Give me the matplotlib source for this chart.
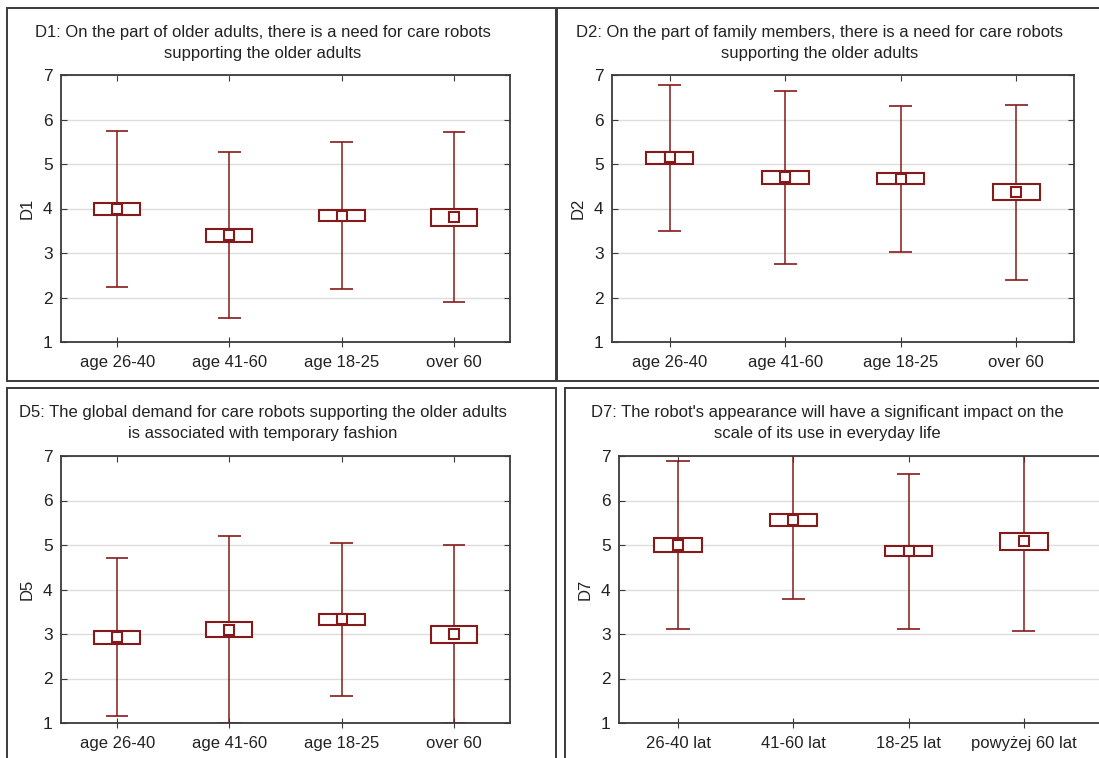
import matplotlib.pyplot as plt
from matplotlib.patches import Rectangle

plt.rcParams['font.family'] = ['Liberation Sans', 'DejaVu Sans']

W, H = 1099, 758
RED = '#861a1a'

# titles and category labels
titles = [
    "D1: On the part of older adults, there is a need for care robots\nsupporting the older adults",
    "D2: On the part of family members, there is a need for care robots\nsupporting the older adults",
    "D5: The global demand for care robots supporting the older adults\nis associated with temporary fashion",
    "D7: The robot's appearance will have a significant impact on the\nscale of its use in everyday life",
]
ylabels = ['D1', 'D2', 'D5', 'D7']
cats_en = ['age 26-40', 'age 41-60', 'age 18-25', 'over 60']
cats_pl = ['26-40 lat', '41-60 lat', '18-25 lat', 'powyżej 60 lat']

# mean, box (mean +/- SE) and whiskers (mean +/- SD)
d1_mean = [3.99, 3.40, 3.84, 3.81]
d1_box_lo = [3.85, 3.25, 3.72, 3.61]
d1_box_hi = [4.13, 3.54, 3.96, 3.98]
d1_wlo = [2.24, 1.53, 2.18, 1.89]
d1_whi = [5.74, 5.27, 5.50, 5.71]

d2_mean = [5.15, 4.70, 4.67, 4.37]
d2_box_lo = [5.01, 4.55, 4.55, 4.18]
d2_box_hi = [5.26, 4.84, 4.79, 4.56]
d2_wlo = [3.49, 2.76, 3.02, 2.40]
d2_whi = [6.78, 6.63, 6.30, 6.33]

d5_mean = [2.93, 3.10, 3.33, 3.00]
d5_box_lo = [2.78, 2.93, 3.21, 2.79]
d5_box_hi = [3.06, 3.26, 3.45, 3.19]
d5_wlo = [1.15, 1.00, 1.61, 1.00]
d5_whi = [4.70, 5.21, 5.04, 4.99]

d7_mean = [5.00, 5.56, 4.87, 5.09]
d7_box_lo = [4.85, 5.43, 4.75, 4.89]
d7_box_hi = [5.15, 5.70, 4.98, 5.28]
d7_wlo = [3.11, 3.78, 3.12, 3.07]
d7_whi = [6.89, 7.34, 6.60, 7.11]

panels = [
    (d1_mean, d1_box_lo, d1_box_hi, d1_wlo, d1_whi, cats_en),
    (d2_mean, d2_box_lo, d2_box_hi, d2_wlo, d2_whi, cats_en),
    (d5_mean, d5_box_lo, d5_box_hi, d5_wlo, d5_whi, cats_en),
    (d7_mean, d7_box_lo, d7_box_hi, d7_wlo, d7_whi, cats_pl),
]

# pixel layout: axes (left, right, top, bottom), xlim, title centre, frame
ax_px = [(61, 510, 75, 342), (612, 1074, 75, 342),
         (61, 510, 456, 723), (619, 1110, 456, 723)]
xlims = [(0.5, 4.5), (0.5, 4.5), (0.5, 4.5), (0.488, 4.747)]
title_px = [(263, 43), (820, 43), (263, 423), (827, 423)]
frame_px = [(7, 556, 8, 381), (557, 1120, 8, 381),
            (7, 556, 388, 780), (565, 1120, 388, 780)]

fig = plt.figure(figsize=(W / 100, H / 100), dpi=100)

for (l, r, t, b) in frame_px:
    fig.add_artist(Rectangle((l / W, 1 - b / H), (r - l) / W, (b - t) / H,
                             transform=fig.transFigure, fill=False,
                             edgecolor='#3a3a3a', linewidth=1.4))

for i, (mean, blo, bhi, wlo, whi, cats) in enumerate(panels):
    l, r, t, b = ax_px[i]
    ax = fig.add_axes([l / W, 1 - b / H, (r - l) / W, (b - t) / H])
    xs = list(range(1, len(cats) + 1))
    for x, m, lo, hi, w0, w1 in zip(xs, mean, blo, bhi, wlo, whi):
        ax.vlines(x, w0, w1, color=RED, linewidth=1.1, zorder=2)
        ax.hlines([w0, w1], x - 0.1, x + 0.1, color=RED, linewidth=1.2, zorder=2)
        ax.add_patch(Rectangle((x - 0.205, lo), 0.41, hi - lo, facecolor='white',
                               edgecolor=RED, linewidth=1.5, zorder=3))
        ax.plot(x, m, marker='s', ms=6.5, mfc='white', mec=RED, mew=1.5, zorder=4)
    ax.set_xlim(*xlims[i])
    ax.set_ylim(1, 7)
    ax.set_yticks(range(1, 8))
    ax.set_xticks(xs)
    ax.set_xticklabels(cats, fontsize=12, color='#222222')
    ax.tick_params(axis='y', labelsize=12.5, labelcolor='#222222', direction='in',
                   left=True, right=True, length=4, color='#3a3a3a', pad=6)
    ax.tick_params(axis='x', direction='inout', length=7, color='#3a3a3a', pad=6)
    top = ax.secondary_xaxis('top')
    top.set_xticks(xs)
    top.set_xticklabels([])
    top.tick_params(direction='in', length=4, color='#3a3a3a')
    top.spines['top'].set_visible(False)
    ax.grid(axis='y', color='#dddddd', linewidth=1.0, zorder=0)
    ax.set_axisbelow(True)
    for s in ax.spines.values():
        s.set_color('#3a3a3a')
        s.set_linewidth(1.3)
    ax.set_ylabel(ylabels[i], fontsize=12, color='#222222', labelpad=6)
    tx, ty = title_px[i]
    fig.text(tx / W, 1 - ty / H, titles[i], ha='center', va='center',
             fontsize=12, color='#222222', linespacing=1.45)

fig.savefig('out.png', dpi=100)
